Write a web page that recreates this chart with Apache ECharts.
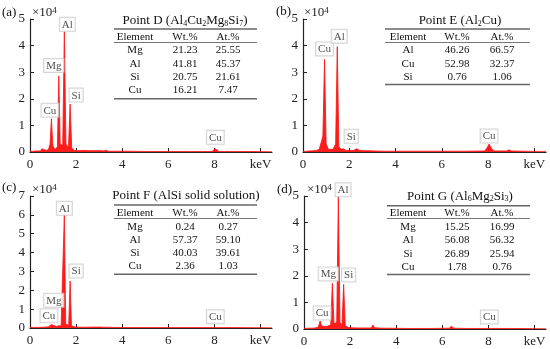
<!DOCTYPE html>
<html><head><meta charset="utf-8">
<script src="https://cdn.jsdelivr.net/npm/echarts@6/dist/echarts.min.js"></script>
<style>html,body{margin:0;padding:0;background:#fff}#c{width:550px;height:349px}</style>
</head><body><div id="c"></div>
<script>
// ---------- spectra: energy (keV) and counts (x10^4) ----------
const eA = [0,0.15,0.24,0.28,0.33,0.45,0.52,0.58,0.7,0.8,0.87,0.93,0.99,1.08,1.19,1.25,1.31,1.42,1.49,1.56,1.67,1.74,1.81,1.92,2.1,2.3,2.62,2.7,2.78,2.9,2.96,3.02,3.2,3.3,3.4,3.7,4.2,5.0,6.0,7.0,7.9,7.98,8.04,8.1,8.2,8.85,8.9,8.95,9.5,10.5];
const cA = [0.02,0.03,0.04,0.1,0.04,0.04,0.12,0.05,0.06,0.09,0.3,1.25,0.25,0.08,0.2,2.86,0.3,0.25,4.52,0.3,0.15,1.8,0.15,0.06,0.05,0.06,0.05,0.1,0.05,0.05,0.1,0.05,0.04,0.07,0.03,0.03,0.03,0.02,0.02,0.02,0.02,0.08,0.12,0.08,0.02,0.02,0.05,0.02,0.02,0.01];
const eB = [0,0.15,0.24,0.28,0.33,0.45,0.52,0.58,0.7,0.8,0.86,0.93,1.0,1.1,1.3,1.41,1.48,1.55,1.65,1.74,1.85,2.2,2.32,2.38,2.45,2.6,2.9,2.98,3.05,3.5,4.5,6.0,7.0,7.85,7.95,8.04,8.13,8.25,8.8,8.9,9.0,9.5,10.5];
const cB = [0.02,0.03,0.04,0.1,0.04,0.05,0.12,0.06,0.1,0.4,0.6,3.48,0.3,0.1,0.1,0.3,3.96,0.2,0.1,0.12,0.06,0.06,0.12,0.12,0.06,0.05,0.05,0.09,0.04,0.03,0.03,0.03,0.03,0.04,0.15,0.3,0.15,0.04,0.04,0.08,0.04,0.03,0.02];
const eC = [0,0.2,0.28,0.36,0.45,0.52,0.6,0.8,0.88,0.93,0.98,1.15,1.25,1.35,1.43,1.49,1.55,1.68,1.74,1.8,1.95,2.3,2.9,2.98,3.06,3.2,3.28,3.36,3.6,4.5,6.0,8.0,9.0,10.5];
const cC = [0.02,0.03,0.06,0.03,0.04,0.08,0.04,0.06,0.12,0.18,0.1,0.08,0.12,0.1,0.2,6.0,0.2,0.15,2.49,0.12,0.05,0.04,0.05,0.15,0.05,0.04,0.1,0.04,0.03,0.02,0.02,0.02,0.02,0.01];
const eD = [0,0.2,0.28,0.36,0.45,0.52,0.6,0.65,0.7,0.76,0.85,0.93,1.0,1.16,1.23,1.3,1.42,1.49,1.56,1.65,1.72,1.79,1.95,2.3,2.65,2.72,2.8,2.92,2.99,3.06,3.22,3.3,3.38,3.7,4.5,5.5,6.3,6.4,6.5,7.0,8.0,9.0,10.5];
const cD = [0.02,0.03,0.07,0.03,0.04,0.07,0.06,0.15,0.3,0.12,0.1,0.13,0.1,0.15,1.72,0.2,0.25,4.99,0.25,0.15,1.68,0.12,0.05,0.04,0.04,0.09,0.04,0.04,0.15,0.05,0.04,0.08,0.03,0.03,0.02,0.02,0.03,0.1,0.03,0.02,0.02,0.02,0.01];

// ---------- peak labels ----------
const pkNameA = ['Cu','Mg','Al','Si','Cu'];
const pkEA = [0.93,1.25,1.49,1.74,8.04];
const pkHA = [1.25,2.86,4.52,1.8,0.12];
const pkNameB = ['Cu','Al','Si','Cu'];
const pkEB = [0.93,1.48,1.74,8.04];
const pkHB = [3.48,3.96,0.12,0.3];
const pkNameC = ['Al','Si','Mg','Cu','Cu'];
const pkEC = [1.49,1.74,1.25,0.93,8.04];
const pkHC = [6.0,2.49,0.12,0.18,0.02];
const pkNameD = ['Al','Mg','Si','Cu','Cu'];
const pkED = [1.49,1.23,1.72,0.7,8.04];
const pkHD = [4.99,1.72,1.68,0.3,0.02];

// ---------- axes ----------
const xTicks = [0,2,4,6,8,10];
const yMaxes = [5,5,7,5];

// ---------- tables ----------
const titleD = 'Point D (Al4Cu2Mg8Si7)';
const elD = ['Mg','Al','Si','Cu'];
const wtD = ['21.23','41.81','20.75','16.21'];
const atD = ['25.55','45.37','21.61','7.47'];
const titleE = 'Point E (Al2Cu)';
const elE = ['Al','Cu','Si'];
const wtE = ['46.26','52.98','0.76'];
const atE = ['66.57','32.37','1.06'];
const titleF = 'Point F (AlSi solid solution)';
const elF = ['Mg','Al','Si','Cu'];
const wtF = ['0.24','57.37','40.03','2.36'];
const atF = ['0.27','59.10','39.61','1.03'];
const titleG = 'Point G (Al6Mg2Si3)';
const elG = ['Mg','Al','Si','Cu'];
const wtG = ['15.25','56.08','26.89','1.78'];
const atG = ['16.99','56.32','25.94','0.76'];
const headers = ['Element','Wt.%','At.%'];
const panelTags = ['(a)','(b)','(c)','(d)'];

// ---------- layout / style (not data) ----------
const FONT = '"Liberation Serif","Times New Roman",serif';
const RED = '#ff1010';
const grids = [
  {left:30, top:19, width:242, height:133},
  {left:303, top:19, width:243, height:133},
  {left:30, top:196, width:242, height:132},
  {left:304, top:196, width:242, height:133}
];
const lblOff = [
  [[-1.5,-2],[-5,-4],[3,-1],[6,-2.5],[0,-5]],
  [[0,-4],[2,-4],[8,-6],[0,-1.5]],
  [[0,0],[6,-3.5],[-5,-19],[-2.5,-2.4],[0,-4.4]],
  [[4.7,0],[-4,-2.8],[5,-2.8],[2,-1.5],[0,-5]]
];
const tblLayout = [
  {cols:[135,185,228], tx:185, ty:21, x1:114, x2:257, top:29, hy:37, hl:42.5, r0:50.5, step:13.3, bot:98.7},
  {cols:[408,457,502], tx:460, ty:21, x1:385, x2:530, top:29, hy:37, hl:42.5, r0:50.5, step:13.3, bot:84.5},
  {cols:[135,185,228], tx:186, ty:196, x1:114, x2:257, top:205, hy:213, hl:218.5, r0:226.7, step:13.3, bot:274.3},
  {cols:[408,457,502], tx:460, ty:196.7, x1:387, x2:530, top:205.7, hy:213, hl:218.5, r0:227, step:13.4, bot:274.5}
];
const tagPos = [[2,13],[276,12],[2,188],[277,190]];
const expPos = [[32,12.5],[304,13],[32,190],[307,190]];

const spectra = [[eA,cA],[eB,cB],[eC,cC],[eD,cD]];
const peaks = [[pkNameA,pkEA,pkHA],[pkNameB,pkEB,pkHB],[pkNameC,pkEC,pkHC],[pkNameD,pkED,pkHD]];
const tables = [[titleD,elD,wtD,atD],[titleE,elE,wtE,atE],[titleF,elF,wtF,atF],[titleG,elG,wtG,atG]];

const xAxes = [], yAxes = [], series = [], graphic = [];
for (let i = 0; i < 4; i++) {
  xAxes.push({
    gridIndex:i, type:'value', min:0, max:10.5, interval:2,
    axisLine:{show:true, onZero:false, lineStyle:{color:'#222', width:1.2}},
    axisTick:{show:true, inside:true, length:4, customValues:xTicks, lineStyle:{color:'#222'}},
    axisLabel:{customValues:xTicks, formatter:v => v === 10 ? 'keV' : String(v),
      fontFamily:FONT, fontSize:13, color:'#222', margin:6},
    splitLine:{show:false}
  });
  yAxes.push({
    gridIndex:i, type:'value', min:0, max:yMaxes[i], interval:1,
    axisLine:{show:true, onZero:false, lineStyle:{color:'#222', width:1.2}},
    axisTick:{show:true, inside:true, length:4, lineStyle:{color:'#222'}},
    axisLabel:{fontFamily:FONT, fontSize:13, color:'#222', margin:5},
    splitLine:{show:false}
  });
  const [e, c] = spectra[i];
  series.push({
    type:'line', xAxisIndex:i, yAxisIndex:i, data:e.map((x,j)=>[x,c[j]]),
    showSymbol:false, symbol:'none', silent:true,
    lineStyle:{color:RED, width:0.8}, areaStyle:{color:RED, opacity:0.95}, z:2
  });
  const [nm, pe, ph] = peaks[i];
  series.push({
    type:'scatter', xAxisIndex:i, yAxisIndex:i, symbolSize:0, silent:true, z:5,
    data: nm.map((n,j)=>({name:n, value:[pe[j],ph[j]], label:{offset:lblOff[i][j]}})),
    label:{show:true, position:'top', distance:0, formatter:'{b}',
      fontFamily:FONT, fontSize:11, color:'#222', lineHeight:12,
      backgroundColor:'#fff', borderColor:'#c8c8c8', borderWidth:1, padding:[1,2,0,2]}
  });
  // table
  const [title, el, wt, at] = tables[i];
  const L = tblLayout[i];
  const rich = title.replace(/\d+/g, m => '{s|' + m + '}');
  graphic.push({type:'text', x:L.tx, y:L.ty, style:{
    text:rich, fontFamily:FONT, fontSize:13, fill:'#111', align:'center', verticalAlign:'middle',
    rich:{s:{fontFamily:FONT, fontSize:8, lineHeight:8, verticalAlign:'bottom', fill:'#111'}}
  }});
  graphic.push({type:'line', shape:{x1:L.x1, y1:L.top, x2:L.x2, y2:L.top}, style:{stroke:'#666', lineWidth:1.5}});
  graphic.push({type:'line', shape:{x1:L.x1, y1:L.hl, x2:L.x2, y2:L.hl}, style:{stroke:'#777', lineWidth:1}});
  graphic.push({type:'line', shape:{x1:L.x1, y1:L.bot, x2:L.x2, y2:L.bot}, style:{stroke:'#666', lineWidth:1.5}});
  headers.forEach((h,k)=>graphic.push({type:'text', x:L.cols[k], y:L.hy,
    style:{text:h, fontFamily:FONT, fontSize:11, fill:'#111', align:'center', verticalAlign:'middle'}}));
  el.forEach((name,r)=>{
    const y = L.r0 + r*L.step;
    [name, wt[r], at[r]].forEach((t,k)=>graphic.push({type:'text', x:L.cols[k], y:y,
      style:{text:t, fontFamily:FONT, fontSize:11, fill:'#111', align:'center', verticalAlign:'middle'}}));
  });
  graphic.push({type:'text', x:tagPos[i][0], y:tagPos[i][1],
    style:{text:panelTags[i], fontFamily:FONT, fontSize:13, fill:'#111', align:'left', verticalAlign:'middle'}});
  graphic.push({type:'text', x:expPos[i][0], y:expPos[i][1],
    style:{text:'×10{p|4}', fontFamily:FONT, fontSize:13, fill:'#222', align:'left', verticalAlign:'middle',
      rich:{p:{fontFamily:FONT, fontSize:9, lineHeight:9, verticalAlign:'top', fill:'#222'}}}});
}

const chart = echarts.init(document.getElementById('c'), null, {renderer:'canvas'});
chart.setOption({
  animation:false, backgroundColor:'#fff',
  grid: grids, xAxis: xAxes, yAxis: yAxes, series: series, graphic: graphic
});
</script></body></html>
